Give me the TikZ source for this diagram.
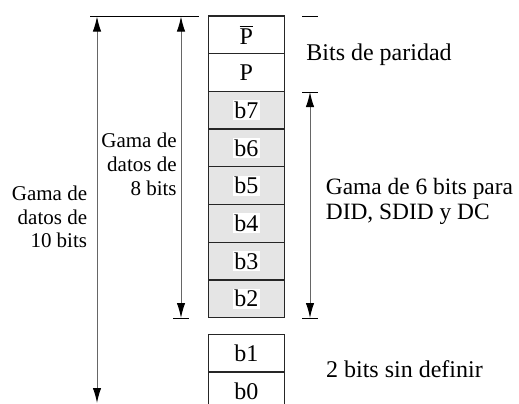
\documentclass[tikz,border=0pt]{standalone}
\usepackage{fontspec}
\setmainfont{Liberation Serif}
\usetikzlibrary{arrows.meta}
\begin{document}
\begin{tikzpicture}[x=0.5pt,y=-0.5pt,
  cell/.style={draw=black!85,line width=0.65pt,minimum width=38pt,minimum height=18.85pt,inner sep=0pt,font=\fontsize{12}{14}\selectfont},
  shade/.style={cell,fill=black!10},
  shaft/.style={draw=black!60,line width=0.5pt,{Latex[length=7.5pt,width=4.2pt,color=black]}-{Latex[length=7.5pt,width=4.2pt,color=black]}},
  tick/.style={draw=black,line width=0.5pt},
  txt/.style={inner sep=0pt,font=\fontsize{12}{12}\selectfont},
  sidetxt/.style={inner sep=0pt,align=right,anchor=east,font=\fontsize{10.5}{11.9}\selectfont}
]
\useasboundingbox (0,0) rectangle (519,403);
\newcommand{\wlab}[1]{{\setlength{\fboxsep}{0.8pt}\colorbox{white}{#1}}}
% upper column
\node[cell]  (pb) at (246.3,34.85) {$\overline{\hbox{P}}$};
\node[cell]  (p)  at (246.3,72.55) {P};
\node[shade] (b7) at (246.3,110.25) {\wlab{b7}};
\node[shade] (b6) at (246.3,147.95) {\wlab{b6}};
\node[shade] (b5) at (246.3,185.65) {\wlab{b5}};
\node[shade] (b4) at (246.3,223.35) {\wlab{b4}};
\node[shade] (b3) at (246.3,261.05) {\wlab{b3}};
\node[shade] (b2) at (246.3,298.75) {\wlab{b2}};
% lower column
\node[cell] (b1) at (246.3,353) {b1};
\node[cell] (b0) at (246.3,391) {b0};
% coordinates
\coordinate (tlA) at (90,16);
\coordinate (tlB) at (199,16);
\coordinate (a1t) at (97,16.5);
\coordinate (a1b) at (97,403);
\coordinate (a2t) at (181,16.5);
\coordinate (a2b) at (181,318);
\coordinate (t2a) at (173,318);
\coordinate (t2b) at (189,318);
\coordinate (a3t) at (310,92);
\coordinate (a3b) at (310,318);
\coordinate (t3a) at (302,92);
\coordinate (t3b) at (318,92);
\coordinate (t4a) at (302,318);
\coordinate (t4b) at (318,318);
\coordinate (t5a) at (302,16);
\coordinate (t5b) at (318,16);
% lines
\draw[tick] (tlA) -- (tlB);
\draw[tick] (t2a) -- (t2b);
\draw[tick] (t3a) -- (t3b);
\draw[tick] (t4a) -- (t4b);
\draw[tick] (t5a) -- (t5b);
\draw[shaft] (a1b) -- (a1t);
\draw[shaft] (a2b) -- (a2t);
\draw[shaft] (a3b) -- (a3t);
% texts
\node[sidetxt] (g10) at (87.5,217) {Gama de\\datos de\\10 bits};
\node[sidetxt] (g8) at (177,164.5) {Gama de\\datos de\\8 bits};
\node[txt,anchor=base west] (par) at (306,60) {Bits de paridad};
\node[txt,align=left,anchor=west,font=\fontsize{11.7}{12.5}\selectfont] (g6) at (325.5,201) {Gama de 6 bits para\\DID, SDID y DC};
\node[txt,anchor=base west] (sd) at (325.7,377.5) {2 bits sin definir};
\end{tikzpicture}
\end{document}
